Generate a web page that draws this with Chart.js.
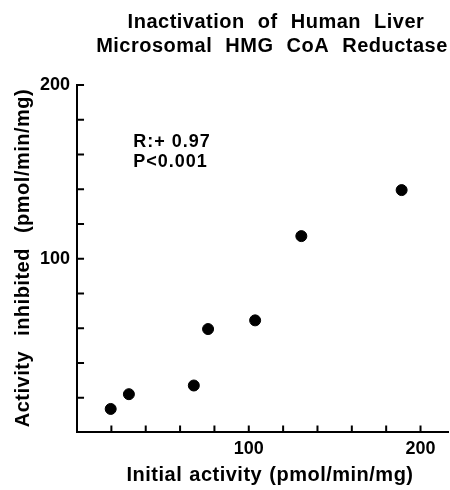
<html>
<head>
  <script src="https://cdn.jsdelivr.net/npm/chart.js"></script>
  <title>HMG CoA Reductase</title>
  <style>
    body { margin: 0; background: #fff; }
  </style>
</head>
<body>
  <canvas id="myChart" width="450" height="490"></canvas>
  <script>
    // 데이터
    const initialActivity = [19.6, 30.2, 68, 76.3, 103.7, 130.6, 189];
    const activityInhibited = [13.5, 22, 27, 59.5, 64.5, 113, 139.5];
    const titleLines = ["Inactivation of Human Liver", "Microsomal HMG CoA Reductase"];
    const statLines = ["R:+ 0.97", "P<0.001"];
    const labeledTicks = [100, 200];
    const xTitle = "Initial activity (pmol/min/mg)";
    const yTitle = "Activity inhibited (pmol/min/mg)";

    const FONT = "'Liberation Sans', Arial, sans-serif";

    // 제목, 축 제목, 통계 텍스트, 안쪽 눈금
    const plugin = {
      id: "extras",
      afterDraw: (chart) => {
        const { ctx, chartArea } = chart;
        const xs = chart.scales.x, ys = chart.scales.y;
        ctx.save();
        ctx.fillStyle = "#000";
        ctx.textAlign = "center";
        ctx.textBaseline = "alphabetic";

        // 제목
        ctx.font = "bold 20px " + FONT;
        ctx.letterSpacing = "0.5px";
        ctx.wordSpacing = "7px";
        ctx.fillText(titleLines[0], 276, 28);
        ctx.fillText(titleLines[1], 272, 52);

        // x축 제목
        ctx.wordSpacing = "1px";
        ctx.fillText(xTitle, 270, 481);

        // y축 제목 (회전)
        ctx.save();
        ctx.translate(29, 258);
        ctx.rotate(-Math.PI / 2);
        ctx.wordSpacing = "9px";
        ctx.fillText(yTitle, 0, 0);
        ctx.restore();

        // R, P 값
        ctx.font = "bold 18px " + FONT;
        ctx.textAlign = "left";
        ctx.letterSpacing = "1px";
        ctx.wordSpacing = "0px";
        ctx.fillText(statLines[0], xs.getPixelForValue(32.7), ys.getPixelForValue(164.3));
        ctx.fillText(statLines[1], xs.getPixelForValue(32.7), ys.getPixelForValue(152.7));
        ctx.letterSpacing = "0px";

        // 안쪽으로 향하는 눈금
        ctx.strokeStyle = "#000";
        ctx.lineWidth = 2;
        ctx.beginPath();
        for (const t of xs.ticks) {
          if (t.value % 20 !== 0 || t.value === 0) continue;
          const px = xs.getPixelForValue(t.value);
          ctx.moveTo(px, chartArea.bottom);
          ctx.lineTo(px, chartArea.bottom - 7);
        }
        for (const t of ys.ticks) {
          if (t.value % 20 !== 0 || t.value === 0) continue;
          const py = ys.getPixelForValue(t.value);
          ctx.moveTo(chartArea.left, py);
          ctx.lineTo(chartArea.left + 7, py);
        }
        ctx.stroke();
        ctx.restore();
      },
    };

    const tickCb = (value) => (labeledTicks.includes(value) ? String(value) : "");

    new Chart(document.getElementById("myChart"), {
      type: "scatter",
      data: {
        datasets: [
          {
            data: initialActivity.map((x, i) => ({ x: x, y: activityInhibited[i] })),
            backgroundColor: "#000",
            borderColor: "#000",
            pointRadius: 5.5,
            pointHoverRadius: 5.5,
          },
        ],
      },
      options: {
        responsive: false,
        animation: false,
        layout: { autoPadding: false, padding: { top: 85, right: 2, left: 33, bottom: 24 } },
        scales: {
          x: {
            type: "linear",
            min: 0,
            max: 216,
            border: { color: "#000", width: 2 },
            grid: { display: true, drawOnChartArea: false, drawTicks: false },
            ticks: {
              stepSize: 20,
              includeBounds: false,
              autoSkip: false,
              maxRotation: 0,
              padding: 6,
              color: "#000",
              font: { family: FONT, size: 18, weight: "bold" },
              callback: tickCb,
            },
          },
          y: {
            type: "linear",
            min: 0,
            max: 200,
            border: { color: "#000", width: 2 },
            grid: { display: true, drawOnChartArea: false, drawTicks: false },
            ticks: {
              stepSize: 20,
              includeBounds: false,
              autoSkip: false,
              padding: 7,
              color: "#000",
              font: { family: FONT, size: 18, weight: "bold" },
              callback: tickCb,
            },
          },
        },
        plugins: {
          legend: { display: false },
          tooltip: { enabled: false },
        },
      },
      plugins: [plugin],
    });
  </script>
</body>
</html>
